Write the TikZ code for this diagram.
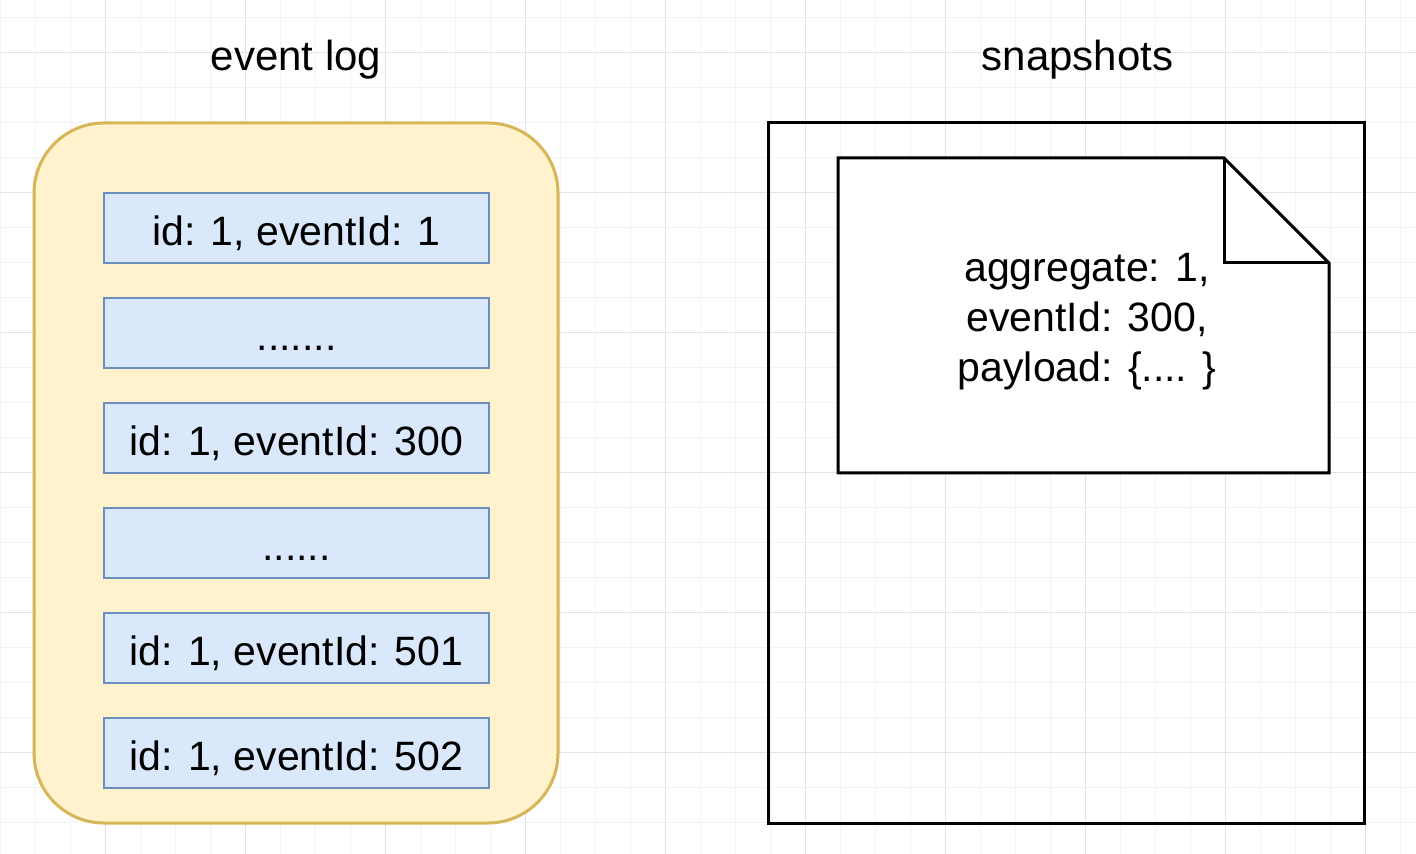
\documentclass[tikz,border=0pt]{standalone}
\usepackage{fontspec}
\setmainfont{Liberation Sans}
\usetikzlibrary{positioning}
\definecolor{logfill}{HTML}{FFF2CC}
\definecolor{logline}{HTML}{D6B656}
\definecolor{evfill}{HTML}{DAE8FC}
\definecolor{evline}{HTML}{6C8EBF}
\definecolor{gridminor}{HTML}{F3F3F3}
\definecolor{gridmajor}{HTML}{E3E3E3}

\begin{document}
\begin{tikzpicture}[x=0.5pt, y=-0.5pt,
    event/.style = {draw=evline, fill=evfill, line width=1.3pt, minimum width=192.5pt, minimum height=35pt,
                    inner sep=0pt, outer sep=0pt, text height=17.2pt, text depth=0pt,
                    font=\fontsize{20.5}{25}\selectfont},
    title/.style = {anchor=base},
    node distance={17.5pt}, font=\fontsize{21}{25}\selectfont]
                  \useasboundingbox (0,0) rectangle (1416,854);
                  % background grid
                  \fill[white] (0,0) rectangle (1416,854);
                  \foreach \x in {0,35,...,1400} \draw[gridminor, line width=0.5pt] (\x,0) -- (\x,854);
                  \foreach \y in {17.5,52.5,...,840} \draw[gridminor, line width=0.5pt] (0,\y) -- (1416,\y);
                  \foreach \x in {105,245,...,1400} \draw[gridmajor, line width=0.5pt] (\x,0) -- (\x,854);
                  \foreach \y in {52.5,192.5,...,840} \draw[gridmajor, line width=0.5pt] (0,\y) -- (1416,\y);
                  % event log
                  \node[title] (logtitle) at (296,71) {event log};
                  \node[draw=logline, fill=logfill, line width=1.5pt, rounded corners=35pt,
                        minimum width=262pt, minimum height=350pt] (log) at (296,473) {};
                  \node[event] (e1) at (296.5,228) {id: 1, eventId: 1};
                  \node[event] (e2) [below=of e1] {.......};
                  \node[event] (e3) [below=of e2] {id: 1, eventId: 300};
                  \node[event] (e4) [below=of e3] {......};
                  \node[event] (e5) [below=of e4] {id: 1, eventId: 501};
                  \node[event] (e6) [below=of e5] {id: 1, eventId: 502};
                  % snapshots
                  \node[title] (snaptitle) at (1077.5,71) {snapshots};
                  \node[draw, line width=1.5pt, minimum width=298pt, minimum height=350pt] (snaps) at (1066,473) {};
                  \draw[line width=1.5pt, fill=white, line join=miter]
                        (838,158) -- (1224,158) -- (1329,263) -- (1329,473) -- (838,473) -- cycle;
                  \draw[line width=1.5pt] (1224,158) -- (1224,263) -- (1329,263);
                  \node[align=center, font=\fontsize{20.5}{25}\selectfont] (state) at (1087,322)
                        {aggregate: 1,\\eventId: 300,\\payload: \{.... \}};
              \end{tikzpicture}
\end{document}
